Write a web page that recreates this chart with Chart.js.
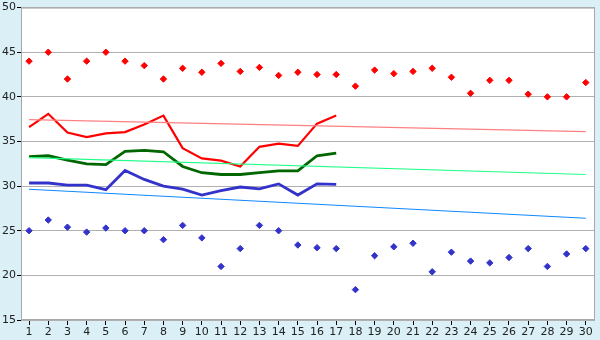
<!DOCTYPE html>
<html>
<head>
<meta charset="utf-8">
<script src="https://cdn.jsdelivr.net/npm/chart.js@4/dist/chart.umd.min.js"></script>
<style>
  html, body { margin: 0; padding: 0; background: #daeff6; }
  #wrap { width: 600px; height: 340px; }
</style>
</head>
<body>
<div id="wrap"><canvas id="myChart" width="600" height="340"></canvas></div>
<script>
// day numbers along the bottom
const days = [1,2,3,4,5,6,7,8,9,10,11,12,13,14,15,16,17,18,19,20,21,22,23,24,25,26,27,28,29,30]
const yTicks = [15,20,25,30,35,40,45,50]

// upper dots (red) and lower dots (blue), one per day
const redDots = [44,45,42,44,45,44,43.5,42,43.2,42.75,43.75,42.85,43.3,42.4,42.75,42.5,42.5,41.2,43,42.6,42.85,43.2,42.2,40.4,41.85,41.85,40.3,40,40,41.6]
const blueDots = [25,26.2,25.4,24.85,25.3,25,25,24,25.6,24.2,21,23,25.6,25,23.4,23.1,23,18.4,22.2,23.2,23.6,20.4,22.6,21.6,21.4,22,23,21,22.4,23]

// the three lines, days 1-17
const redLine = [36.6,38.1,36,35.5,35.9,36.05,36.9,37.9,34.25,33.1,32.85,32.2,34.4,34.75,34.5,37,37.9]
const greenLine = [33.3,33.4,32.9,32.5,32.4,33.9,34,33.85,32.2,31.5,31.3,31.3,31.5,31.7,31.7,33.4,33.7]
const blueLine = [30.35,30.35,30.1,30.1,29.6,31.75,30.75,30,29.65,29,29.5,29.9,29.7,30.25,29,30.25,30.2]

// trend lines, value at day 1 and day 30
const redTrend = [37.45, 36.1]
const greenTrend = [33.2, 31.3]
const blueTrend = [29.65, 26.4]

function pts(vals) {
    return vals.map((v, i) => ({ x: days[i], y: v }))
}
function trend(t) {
    return [{ x: days[0], y: t[0] }, { x: days[days.length - 1], y: t[1] }]
}

const frame = {
    id: 'frame',
    beforeDraw(chart) {
        const c = chart.ctx
        const a = chart.chartArea
        c.save()
        c.fillStyle = '#daeff6'
        c.fillRect(0, 0, chart.width, chart.height)
        c.fillStyle = '#ffffff'
        c.fillRect(a.left, a.top, a.right - a.left, a.bottom - a.top)
        c.restore()
    },
    afterDatasetsDraw(chart) {
        const c = chart.ctx
        const a = chart.chartArea
        c.save()
        c.strokeStyle = '#a8a8a8'
        c.lineWidth = 1
        c.strokeRect(a.left + 0.5, a.top + 0.5, a.right - a.left - 1, a.bottom - a.top - 1)
        c.restore()
    }
}

function lineSet(vals, color, w) {
    return { type: 'line', data: pts(vals), borderColor: color, borderWidth: w, pointRadius: 0, tension: 0, fill: false }
}
function trendSet(t, color) {
    return { type: 'line', data: trend(t), borderColor: color, borderWidth: 1.2, pointRadius: 0, fill: false }
}
function dotSet(vals, color) {
    return { type: 'scatter', data: pts(vals), showLine: false, pointStyle: 'rectRot', pointRadius: 3.2, borderWidth: 1,
        backgroundColor: color, borderColor: color }
}

const ctx = document.getElementById('myChart').getContext('2d')
const chart = new Chart(ctx, {
    type: 'scatter',
    data: {
        datasets: [
            trendSet(redTrend, '#ff8080'),
            trendSet(greenTrend, '#22ff88'),
            trendSet(blueTrend, '#1188ff'),
            lineSet(redLine, '#ff0000', 2.2),
            lineSet(greenLine, '#006600', 2.8),
            lineSet(blueLine, '#3333cc', 2.8),
            dotSet(redDots, '#ff0000'),
            dotSet(blueDots, '#3333cc')
        ]
    },
    options: {
        responsive: false,
        animation: false,
        layout: { padding: { top: 5, right: 5, left: 0, bottom: 0 } },
        plugins: { legend: { display: false }, tooltip: { enabled: false } },
        scales: {
            x: {
                type: 'linear',
                min: 0.58,
                max: 30.48,
                afterBuildTicks: (s) => { s.ticks = days.map(d => ({ value: d })) },
                afterFit: (s) => { s.height = 20 },
                grid: { drawOnChartArea: false, drawTicks: true, tickLength: 5, tickColor: '#000000' },
                border: { display: false },
                ticks: { font: { family: 'DejaVu Sans', size: 11 }, color: '#222', padding: 1, maxRotation: 0, autoSkip: false }
            },
            y: {
                min: 15,
                max: 50,
                afterBuildTicks: (s) => { s.ticks = yTicks.map(v => ({ value: v })) },
                afterFit: (s) => { s.width = 21 },
                grid: { color: '#b0b0b0', tickColor: '#000000', tickLength: 4 },
                border: { display: false },
                ticks: { font: { family: 'DejaVu Sans', size: 11 }, color: '#222', padding: 1 }
            }
        }
    },
    plugins: [frame]
})
</script>
</body>
</html>
